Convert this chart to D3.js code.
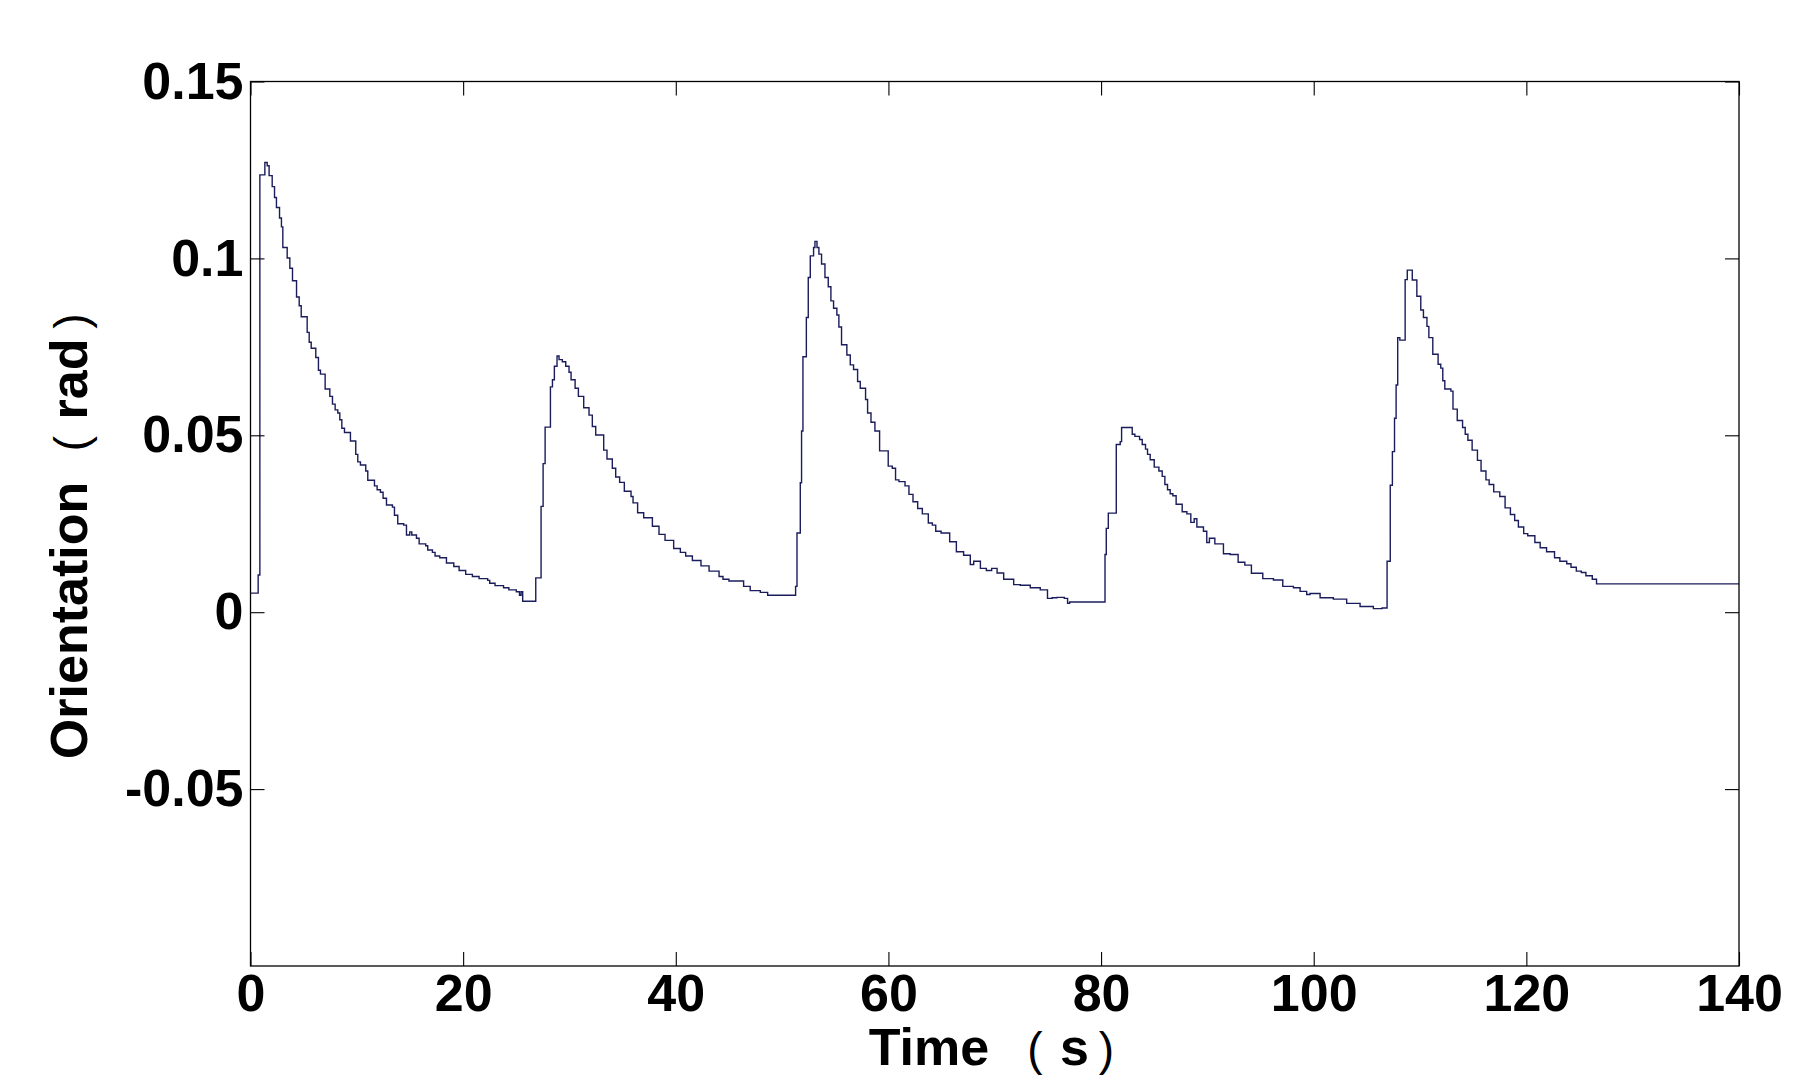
<!DOCTYPE html>
<html>
<head>
<meta charset="utf-8">
<script src="https://cdn.jsdelivr.net/npm/d3@7"></script>
<style>
  html, body { margin: 0; padding: 0; background: #fff; }
  svg { display: block; }
  .lbl { font-family: "Liberation Sans", Arial, sans-serif; font-weight: bold; font-size: 52px; fill: #000; }
  .par { font-family: "Liberation Sans", Arial, sans-serif; font-weight: normal; font-size: 46px; fill: #000; }
</style>
</head>
<body>
<svg id="chart" width="1802" height="1084"></svg>
<script>
// ---- data ----
const timeValues = [
  0, 0.72, 0.88, 1.35, 1.57, 1.75, 2.04, 2.26, 2.44, 2.73, 2.91, 3.04, 3.45, 3.70, 3.95, 4.33, 4.58, 4.77,
  5.33, 5.52, 5.71, 6.14, 6.39, 6.58, 7.02, 7.46, 7.71, 7.96, 8.21, 8.40, 8.59, 8.84, 9.40, 9.90, 10.09,
  10.34, 10.84, 11.03, 11.66, 11.91, 12.22, 12.47, 12.79, 13.35, 13.54, 13.85, 14.41, 14.67, 14.98, 15.17,
  15.61, 15.86, 16.48, 16.67, 17.11, 17.36, 17.80, 18.43, 19.12, 19.62, 20.24, 20.87, 21.50, 22.31, 22.50,
  23.0, 23.8, 24.3, 25.0, 25.3, 25.45, 25.6, 26.83, 27.33, 27.52, 27.71, 28.21, 28.40, 28.58, 28.83, 29.02,
  29.33, 29.65, 29.96, 30.15, 30.53, 30.84, 31.34, 31.84, 32.15, 32.47, 33.22, 33.53, 34.03, 34.35, 34.72,
  35.16, 35.79, 35.98, 36.41, 36.98, 37.80, 38.42, 38.99, 39.80, 40.43, 40.93, 41.56, 42.37, 43.13, 44.07,
  44.44, 45.0, 46.38, 47.0, 47.95, 48.64, 51.27, 51.40, 51.71, 51.83, 51.96, 52.28, 52.46, 52.65, 52.96,
  53.09, 53.28, 53.46, 53.71, 54.03, 54.34, 54.59, 54.84, 55.15, 55.34, 55.59, 56.09, 56.41, 56.72, 57.10,
  57.35, 57.85, 58.04, 58.36, 58.73, 59.17, 59.98, 60.36, 60.67, 60.99, 61.56, 61.93, 62.31, 62.75, 63.19,
  63.75, 64.13, 64.45, 64.95, 65.76, 66.39, 67.07, 67.70, 68.02, 68.65, 69.21, 69.71, 70.22, 70.84, 71.78,
  72.40, 73.34, 74.28, 74.96, 75.4, 75.85, 76.54, 76.85, 77.04, 80.37, 80.49, 80.68, 81.43, 81.80, 81.93,
  82.93, 83.18, 83.62, 83.87, 84.18, 84.37, 84.62, 85.0, 85.44, 85.75, 86.0, 86.25, 86.50, 86.75, 87.06,
  87.63, 88.07, 88.44, 88.76, 89.01, 89.63, 89.94, 90.19, 90.70, 91.51, 92.14, 92.89, 93.52, 94.14, 95.21,
  96.21, 97.09, 98.09, 98.72, 99.34, 99.65, 100.6, 101.85, 103.1, 104.36, 105.61, 106.43, 106.9, 107.2,
  107.4, 107.6, 107.75, 107.9, 108.1, 108.6, 108.8, 109.27, 109.7, 110.07, 110.32, 110.65, 110.83, 111.2,
  111.7, 111.95, 112.14, 112.33, 112.9, 113.1, 113.5, 114.0, 114.25, 114.5, 114.9, 115.4, 115.74, 116.2,
  116.5, 116.93, 117.5, 118.0, 118.5, 118.9, 119.25, 119.75, 120.13, 120.8, 121.3, 121.9, 122.65, 123.15,
  123.8, 124.2, 124.7, 125.17, 125.6, 126.2, 126.6, 140
];
const orientationValues = [
  0.0054, 0.0105, 0.1236, 0.1271, 0.1262, 0.1234, 0.1203, 0.1172, 0.1144, 0.1114, 0.1089, 0.1031, 0.1001,
  0.0972, 0.0937, 0.0891, 0.0866, 0.0835, 0.0791, 0.0763, 0.0746, 0.0720, 0.0684, 0.0673, 0.0631, 0.0610,
  0.0588, 0.0572, 0.0563, 0.0544, 0.0520, 0.0508, 0.0484, 0.0446, 0.0425, 0.0416, 0.0399, 0.0373, 0.0357,
  0.0346, 0.0339, 0.0322, 0.0303, 0.0297, 0.0274, 0.0250, 0.0246, 0.0218, 0.0227, 0.0218, 0.0209, 0.0193,
  0.0188, 0.0176, 0.0169, 0.0159, 0.0154, 0.0139, 0.0129, 0.0118, 0.0107, 0.0101, 0.0095, 0.0090, 0.0082,
  0.0075, 0.0069, 0.0063, 0.0058, 0.0048, 0.0058, 0.0031, 0.0097, 0.0299, 0.0420, 0.0523, 0.0637, 0.0657,
  0.0695, 0.0724, 0.0714, 0.0708, 0.0695, 0.0678, 0.0657, 0.0633, 0.0610, 0.0578, 0.0557, 0.0525, 0.0501,
  0.0458, 0.0433, 0.0407, 0.0382, 0.0367, 0.0342, 0.0327, 0.0309, 0.0281, 0.0267, 0.0243, 0.0220, 0.0203,
  0.0180, 0.0169, 0.0159, 0.0146, 0.0131, 0.0116, 0.0101, 0.0093, 0.0088, 0.0073, 0.0061, 0.0056, 0.0048,
  0.0073, 0.0224, 0.0366, 0.0512, 0.0722, 0.0833, 0.0946, 0.1007, 0.1031, 0.1048, 0.1031, 0.1012, 0.0984,
  0.0946, 0.0920, 0.0880, 0.0859, 0.0840, 0.0806, 0.0756, 0.0727, 0.0699, 0.0686, 0.0652, 0.0633, 0.0601,
  0.0563, 0.0537, 0.0512, 0.0456, 0.0413, 0.0407, 0.0374, 0.0369, 0.0357, 0.0333, 0.0312, 0.0293, 0.0278,
  0.0252, 0.0246, 0.0229, 0.0224, 0.0199, 0.0171, 0.0161, 0.0135, 0.0144, 0.0124, 0.0118, 0.0124, 0.0111,
  0.0093, 0.0078, 0.0076, 0.0069, 0.0063, 0.0039, 0.0041, 0.0042, 0.0039, 0.0025, 0.0029, 0.0163, 0.0237,
  0.0280, 0.0474, 0.0482, 0.0522, 0.0503, 0.0497, 0.0488, 0.0474, 0.0461, 0.0446, 0.0431, 0.0410, 0.0399,
  0.0384, 0.0361, 0.0346, 0.0335, 0.0329, 0.0305, 0.0284, 0.0278, 0.0254, 0.0264, 0.0241, 0.0229, 0.0197,
  0.0209, 0.0193, 0.0165, 0.0163, 0.0141, 0.0133, 0.0110, 0.0095, 0.0091, 0.0073, 0.0069, 0.0059, 0.0050,
  0.0053, 0.0041, 0.0037, 0.0025, 0.0016, 0.0010, 0.0012, 0.0144, 0.0359, 0.0454, 0.0548, 0.0642, 0.0776,
  0.0769, 0.0940, 0.0967, 0.0939, 0.0893, 0.0854, 0.0833, 0.0808, 0.0776, 0.0729, 0.0701, 0.0690, 0.0654,
  0.0631, 0.0625, 0.0574, 0.0542, 0.0522, 0.0503, 0.0486, 0.0458, 0.0429, 0.0399, 0.0374, 0.0361, 0.0340,
  0.0327, 0.0295, 0.0276, 0.0259, 0.0241, 0.0222, 0.0216, 0.0197, 0.0182, 0.0171, 0.0154, 0.0144, 0.0137,
  0.0127, 0.0116, 0.0112, 0.0103, 0.0093, 0.0080, 0.0080
];
const xTickValues = [0, 20, 40, 60, 80, 100, 120, 140];
const yTickValues = [-0.05, 0, 0.05, 0.1, 0.15];
const yTickLabels = ["-0.05", "0", "0.05", "0.1", "0.15"];
const xLabelParts = ["Time", "(", "s", ")"];
const yLabelParts = ["Orientation", "(", "rad", ")"];

// ---- layout ----
const L = 250.5, R = 1739, T = 81.5, B = 966;
const svg = d3.select("#chart");
const x = d3.scaleLinear().domain([0, 140]).range([L, R]);
const y = d3.scaleLinear().domain([-0.1, 0.15]).range([B, T]);

const pts = timeValues.map((t, i) => [t, orientationValues[i]]);

// data line
svg.append("path")
  .datum(pts)
  .attr("fill", "none")
  .attr("stroke", "#1a1c5c")
  .attr("stroke-width", 1.4)
  .attr("d", d3.line().x(d => x(d[0])).y(d => y(d[1])).curve(d3.curveStepAfter));

// axes (ticks inward on all four sides)
const fontCss = "Liberation Sans, Arial, sans-serif";
function style(g, showText) {
  g.select(".domain").remove();
  g.selectAll(".tick line").attr("stroke", "#000").attr("stroke-width", 1.1);
  g.selectAll(".tick text")
    .attr("fill", "#000")
    .style("font-family", fontCss)
    .style("font-weight", "bold")
    .style("font-size", "52px");
  if (!showText) g.selectAll(".tick text").remove();
}
svg.append("g").attr("transform", `translate(0,${B})`)
  .call(d3.axisBottom(x).tickValues(xTickValues).tickFormat(d3.format("d")).tickSizeInner(-14).tickSizeOuter(0).tickPadding(8))
  .call(g => style(g, true));
svg.append("g").attr("transform", `translate(0,${T})`)
  .call(d3.axisTop(x).tickValues(xTickValues).tickSizeInner(-14).tickSizeOuter(0))
  .call(g => style(g, false));
svg.append("g").attr("transform", `translate(${L},0)`)
  .call(d3.axisLeft(y).tickValues(yTickValues).tickFormat((d, i) => yTickLabels[i]).tickSizeInner(-14).tickSizeOuter(0).tickPadding(7))
  .call(g => style(g, true));
svg.append("g").attr("transform", `translate(${R},0)`)
  .call(d3.axisRight(y).tickValues(yTickValues).tickSizeInner(-14).tickSizeOuter(0))
  .call(g => style(g, false));

// box
svg.append("rect")
  .attr("x", L).attr("y", T).attr("width", R - L).attr("height", B - T)
  .attr("fill", "none").attr("stroke", "#000").attr("stroke-width", 1.3);

// axis titles: pieces placed individually (thin, spaced parentheses as in the reference)
const xl = svg.append("g").attr("transform", "translate(0,1065)");
xl.append("text").attr("class", "lbl").attr("x", 929).attr("text-anchor", "middle").text(xLabelParts[0]);
xl.append("text").attr("class", "par").attr("x", 1035).attr("text-anchor", "middle").text(xLabelParts[1]);
xl.append("text").attr("class", "lbl").attr("x", 1074.5).attr("text-anchor", "middle").text(xLabelParts[2]);
xl.append("text").attr("class", "par").attr("x", 1106.5).attr("text-anchor", "middle").text(xLabelParts[3]);

const yl = svg.append("g").attr("transform", "translate(87,0) rotate(-90)");
yl.append("text").attr("class", "lbl").attr("x", -620.5).attr("text-anchor", "middle").text(yLabelParts[0]);
yl.append("text").attr("class", "par").attr("x", -443.5).attr("text-anchor", "middle").text(yLabelParts[1]);
yl.append("text").attr("class", "lbl").attr("x", -379).attr("text-anchor", "middle").text(yLabelParts[2]);
yl.append("text").attr("class", "par").attr("x", -321).attr("text-anchor", "middle").text(yLabelParts[3]);
</script>
</body>
</html>
